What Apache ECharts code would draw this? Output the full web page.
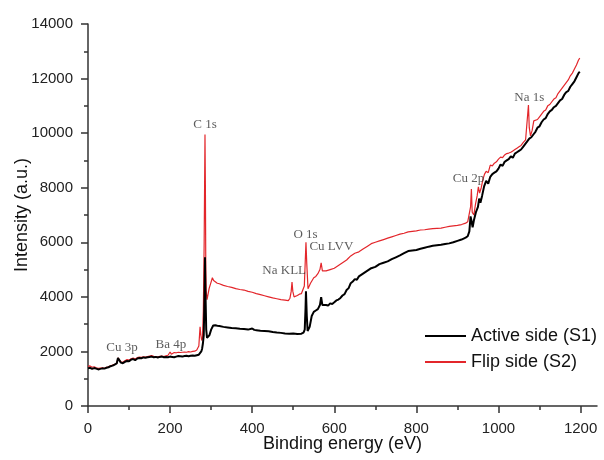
<!DOCTYPE html>
<html><head><meta charset="utf-8">
<script src="https://cdn.jsdelivr.net/npm/echarts@6/dist/echarts.min.js"></script>
<style>html,body{margin:0;padding:0;background:#fff}#c{width:604px;height:460px}</style>
</head><body><div id="c"></div>
<script>
const seriesNames = ['Active side (S1)', 'Flip side (S2)'];
const xMajorTicks = [0, 200, 400, 600, 800, 1000, 1200];
const xMinorTicks = [100, 300, 500, 700, 900, 1100];

const s1Energy = [0,5,10,15,20,25,30,35,40,45,50,55,60,65,70,73,76,80,85,90,95,100,105,110,115,120,125,130,135,140,145,150,155,160,165,170,175,180,185,190,195,200,205,210,215,220,225,230,235,240,245,250,255,260,265,270,273,276,278,280,282,284,285,286,288,290,293,296,300,305,310,315,320,330,340,350,360,370,380,390,400,405,410,420,430,440,450,460,470,480,490,500,510,520,525,528,530,531,533,535,537,540,545,550,555,560,565,568,571,575,580,585,590,595,600,605,610,615,620,625,630,635,640,645,650,655,660,670,680,690,700,710,720,730,740,750,760,770,780,790,800,810,820,830,840,850,860,870,880,890,900,910,920,925,929,932,934,937,940,945,950,953,956,960,965,970,975,980,985,990,995,1000,1005,1010,1015,1020,1025,1030,1035,1040,1045,1050,1055,1060,1065,1070,1075,1080,1085,1090,1095,1100,1105,1110,1115,1120,1125,1130,1135,1140,1145,1150,1155,1160,1165,1170,1175,1180,1185,1190,1195,1198];
const s1Intensity = [1380,1400,1360,1390,1370,1340,1360,1380,1370,1400,1420,1460,1480,1520,1560,1760,1700,1590,1570,1620,1650,1640,1700,1720,1680,1740,1760,1750,1780,1770,1790,1800,1810,1790,1800,1780,1800,1810,1790,1800,1790,1810,1800,1790,1810,1830,1820,1810,1830,1840,1820,1840,1850,1840,1860,1880,1900,2000,2100,2300,2600,4200,5450,4300,2800,2500,2450,2600,2800,2950,2960,2940,2930,2900,2880,2860,2850,2830,2820,2800,2840,2790,2780,2760,2750,2740,2710,2690,2680,2660,2650,2660,2640,2650,2690,2800,3600,4200,3300,2750,2700,2900,3300,3450,3500,3550,3700,3990,3700,3650,3700,3680,3760,3740,3800,3870,3900,3960,4050,4100,4250,4320,4500,4560,4650,4630,4750,4850,4950,5050,5100,5200,5250,5300,5380,5450,5520,5600,5680,5700,5720,5760,5800,5840,5870,5890,5910,5940,5960,6000,6050,6100,6170,6220,6400,6950,6800,6550,6800,7100,7300,7600,7450,7700,8050,8250,8150,8400,8500,8550,8600,8700,8850,8800,8950,9000,9050,9150,9100,9250,9300,9350,9400,9500,9600,9700,9800,9850,9950,10050,10200,10250,10400,10500,10550,10700,10800,10850,10950,11000,11100,11200,11250,11400,11500,11550,11700,11800,11900,12050,12200,12250];

const s2Energy = [0,5,10,15,20,25,30,35,40,45,50,55,60,65,70,73,76,80,85,90,95,100,105,110,115,120,125,130,135,140,145,150,155,160,165,170,175,180,185,190,195,200,203,205,210,215,220,225,230,235,240,245,250,255,260,265,270,273,275,277,279,281,283,285,286,287,288,290,292,295,300,303,306,310,315,320,330,340,350,360,370,380,390,400,410,420,430,440,450,460,470,480,488,492,495,497,499,502,506,510,515,520,524,527,529,531,533,536,538,542,546,550,555,560,565,568,571,575,580,590,600,610,620,630,640,650,660,670,680,690,700,710,720,730,740,750,760,770,780,790,800,810,820,830,840,850,860,870,880,890,900,910,920,925,929,932,934,936,940,944,948,951,954,958,962,966,970,975,980,985,990,995,1000,1005,1010,1015,1020,1025,1030,1035,1040,1045,1050,1055,1060,1066,1070,1073,1075,1078,1082,1086,1090,1095,1100,1105,1110,1115,1120,1125,1130,1135,1140,1145,1150,1155,1160,1165,1170,1175,1180,1185,1190,1195,1198];
const s2Intensity = [1450,1470,1420,1440,1400,1380,1390,1400,1380,1420,1440,1470,1500,1530,1560,1760,1720,1620,1600,1660,1700,1680,1730,1760,1720,1770,1790,1780,1800,1790,1810,1830,1850,1820,1810,1800,1820,1830,1810,1840,1860,1980,1900,1930,1960,1950,1970,1960,1970,1980,1970,1990,1980,2000,2010,2050,2200,2900,2600,2400,2500,3500,6000,9950,8000,5000,4200,3900,3950,4300,4550,4700,4600,4550,4500,4480,4420,4380,4350,4300,4270,4250,4200,4170,4120,4080,4040,4000,3960,3930,3900,3880,3860,3950,4200,4540,4200,4000,4030,4050,4100,4120,4150,4400,5200,6000,5200,4300,4250,4500,4600,4700,4750,4850,5000,5250,4950,4900,4950,5000,5050,5150,5250,5350,5500,5600,5650,5750,5850,5950,6000,6050,6100,6150,6200,6250,6300,6330,6380,6400,6420,6450,6460,6480,6500,6510,6520,6550,6580,6600,6620,6650,6700,6750,6800,7300,7950,7100,7000,7400,7700,8030,7800,8000,8300,8500,8600,8550,8830,8800,8900,8950,9050,9120,9100,9200,9250,9270,9300,9350,9400,9450,9500,9550,9650,9750,9800,11030,10200,9900,10100,10450,10400,10500,10600,10700,10800,10850,11000,11050,11150,11250,11300,11450,11550,11650,11750,11850,11950,12100,12200,12350,12500,12680,12750];

const peakLabels = ['C 1s', 'Cu 3p', 'Ba 4p', 'Na KLL', 'O 1s', 'Cu LVV', 'Cu 2p', 'Na 1s'];
const peakLabelX = [285, 83, 202, 478, 530, 593, 927, 1075];
const peakLabelY = [10300, 2125, 2235, 4980, 6270, 5830, 8350, 11290];

const zip = (a, b) => a.map((v, i) => [v, b[i]]);
const font = 'Liberation Sans, Arial, sans-serif';
const plain = v => String(v);
const chart = echarts.init(document.getElementById('c'));
chart.setOption({
  animation: false,
  backgroundColor: '#fff',
  grid: { left: 88, right: 7, top: 24, bottom: 54, containLabel: false, outerBoundsMode: 'none' },
  legend: {
    show: true,
    data: seriesNames,
    orient: 'vertical',
    left: 420, top: 321,
    icon: 'rect',
    itemWidth: 41, itemHeight: 2, itemGap: 6,
    textStyle: { fontFamily: font, fontSize: 18, lineHeight: 20, color: '#111' }
  },
  xAxis: [{
    type: 'value', min: 0, max: 1240,
    name: 'Binding energy (eV)', nameLocation: 'middle', nameGap: 29, nameMoveOverlap: false,
    nameTextStyle: { fontFamily: font, fontSize: 18, color: '#111' },
    axisLine: { show: true, onZero: false, lineStyle: { color: '#333', width: 1.5 } },
    axisTick: { show: true, inside: false, length: 7, customValues: xMajorTicks, lineStyle: { color: '#333', width: 1.5 } },
    axisLabel: { customValues: xMajorTicks, formatter: plain, margin: 15, fontFamily: font, fontSize: 15, color: '#222' },
    splitLine: { show: false }
  }, {
    type: 'value', min: 0, max: 1240, position: 'bottom',
    axisLine: { show: false },
    axisTick: { show: true, inside: false, length: 4, customValues: xMinorTicks, lineStyle: { color: '#333', width: 1.5 } },
    axisLabel: { show: false },
    splitLine: { show: false }
  }],
  yAxis: {
    type: 'value', min: 0, max: 14000, interval: 2000,
    name: 'Intensity (a.u.)', nameLocation: 'middle', nameGap: 57, nameMoveOverlap: false,
    nameTextStyle: { fontFamily: font, fontSize: 18, color: '#111' },
    axisLine: { show: true, onZero: false, lineStyle: { color: '#333', width: 1.5 } },
    axisTick: { show: true, inside: false, length: 7, lineStyle: { color: '#333', width: 1.5 } },
    minorTick: { show: true, splitNumber: 2, length: 4, lineStyle: { color: '#333', width: 1.5 } },
    axisLabel: { formatter: plain, margin: 15, fontFamily: font, fontSize: 15, color: '#222' },
    splitLine: { show: false }, minorSplitLine: { show: false }
  },
  series: [
    { name: seriesNames[0], type: 'line', data: zip(s1Energy, s1Intensity), symbol: 'none', z: 3,
      lineStyle: { color: '#000', width: 2 }, itemStyle: { color: '#000' } },
    { name: seriesNames[1], type: 'line', data: zip(s2Energy, s2Intensity), symbol: 'none', z: 2,
      lineStyle: { color: '#e3262b', width: 1.2 }, itemStyle: { color: '#e3262b' } },
    { name: 'peaks', type: 'scatter', silent: true, symbolSize: 1, itemStyle: { color: 'rgba(0,0,0,0)' }, z: 5,
      data: peakLabels.map((n, i) => ({ name: n, value: [peakLabelX[i], peakLabelY[i]] })),
      label: { show: true, position: 'inside', formatter: '{b}', fontFamily: 'Liberation Serif, Times New Roman, serif', fontSize: 13, color: '#333' } }
  ]
});
</script></body></html>
